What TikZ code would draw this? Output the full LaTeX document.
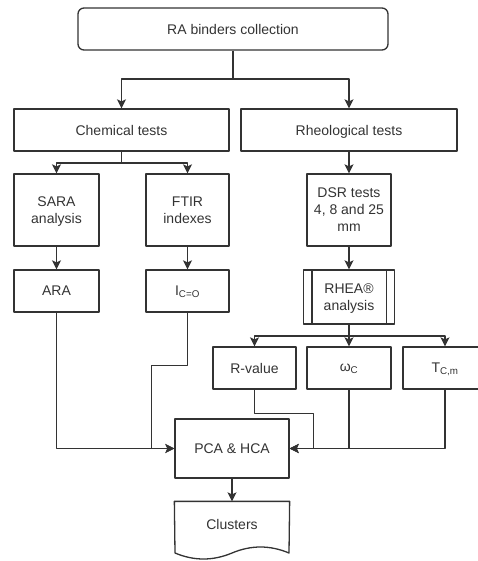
\documentclass[tikz,border=0pt]{standalone}
\usepackage{fontspec}
\setmainfont{Liberation Sans}
\usetikzlibrary{arrows.meta}
\begin{document}
\begin{tikzpicture}[x=1pt, y=-1pt, font=\fontsize{14}{17}\selectfont, line join=round, line width=1.3pt, color=black!80,
	box/.style 2 args={draw, minimum width=#1pt, minimum height=#2pt, inner sep=1pt, text depth=0pt, align=center},
	flow/.style={-{Stealth[length=9pt,width=9pt,inset=2pt]}}]
	\useasboundingbox (0,0) rectangle (478,561);
	\node[box={310}{42}, rounded corners=6pt] (collect) at (233,29) {RA binders collection};
	\node[box={215}{42}] (chem) at (121.5,130) {Chemical tests};
	\node[box={216}{42}] (rheo) at (349,130) {Rheological tests};
	\node[box={85}{72}] (sara) at (56.5,210) {SARA\\analysis};
	\node[box={83}{72}] (ftir) at (187.5,210) {FTIR\\indexes};
	\node[box={84}{72}] (dsr) at (349,210) {DSR tests\\4, 8 and 25\\mm};
	\node[box={85}{42}] (ara) at (56.5,291) {ARA};
	\node[box={83}{42}] (ico) at (187.5,291) {I\textsubscript{C=O}};
	\node[box={91}{54}] (rhea) at (349,297) {RHEA®\\analysis};
	\draw ([xshift=9pt]rhea.north west) -- ([xshift=9pt]rhea.south west);
	\draw ([xshift=-9pt]rhea.north east) -- ([xshift=-9pt]rhea.south east);
	\node[box={83}{42}] (rval) at (254.5,368) {R-value};
	\node[box={84}{42}] (omega) at (349,368) {ω\textsubscript{C}};
	\node[box={84}{42}] (tcm) at (445,368) {T\textsubscript{C,m}};
	\node[box={114}{59}] (pca) at (232,448.5) {PCA \& HCA};
	\node[minimum width=114pt, minimum height=44pt, inner sep=0pt, text depth=0pt] (clusters) at (232,524) {Clusters};
	\draw (clusters.north west) -- (clusters.north east) -- (289,553) .. controls (270,545) and (251,545) .. (232,553) .. controls (213,561) and (194,561) .. (175,553) -- cycle;
	\coordinate (split1) at (233,79);
	\coordinate (split2) at (121.5,163);
	\coordinate (split3) at (349,336);
	\draw (collect.south) -- (split1);
	\draw[flow] (split1) -| (chem.north);
	\draw[flow] (split1) -| (rheo.north);
	\draw (chem.south) -- (split2);
	\draw[flow] (split2) -| (sara.north);
	\draw[flow] (split2) -| (ftir.north);
	\draw[flow] (rheo.south) -- (dsr.north);
	\draw[flow] (sara.south) -- (ara.north);
	\draw[flow] (ftir.south) -- (ico.north);
	\draw[flow] (dsr.south) -- (rhea.north);
	\draw (rhea.south) -- (split3);
	\draw[flow] (split3) -| (rval.north);
	\draw[flow] (split3) -- (omega.north);
	\draw[flow] (split3) -| (tcm.north);
	\draw[flow] (ara.south) |- (pca.west);
	\draw[flow] (ico.south) -- ++(0,53) -| ([xshift=-23pt]pca.west) -- (pca.west);
	\draw[flow] (rval.south) -- ++(0,24) -| ([xshift=24pt]pca.east) -- (pca.east);
	\draw[flow] (omega.south) |- (pca.east);
	\draw[flow] (tcm.south) |- (pca.east);
	\draw[flow] (pca.south) -- (clusters.north);
\end{tikzpicture}
\end{document}
